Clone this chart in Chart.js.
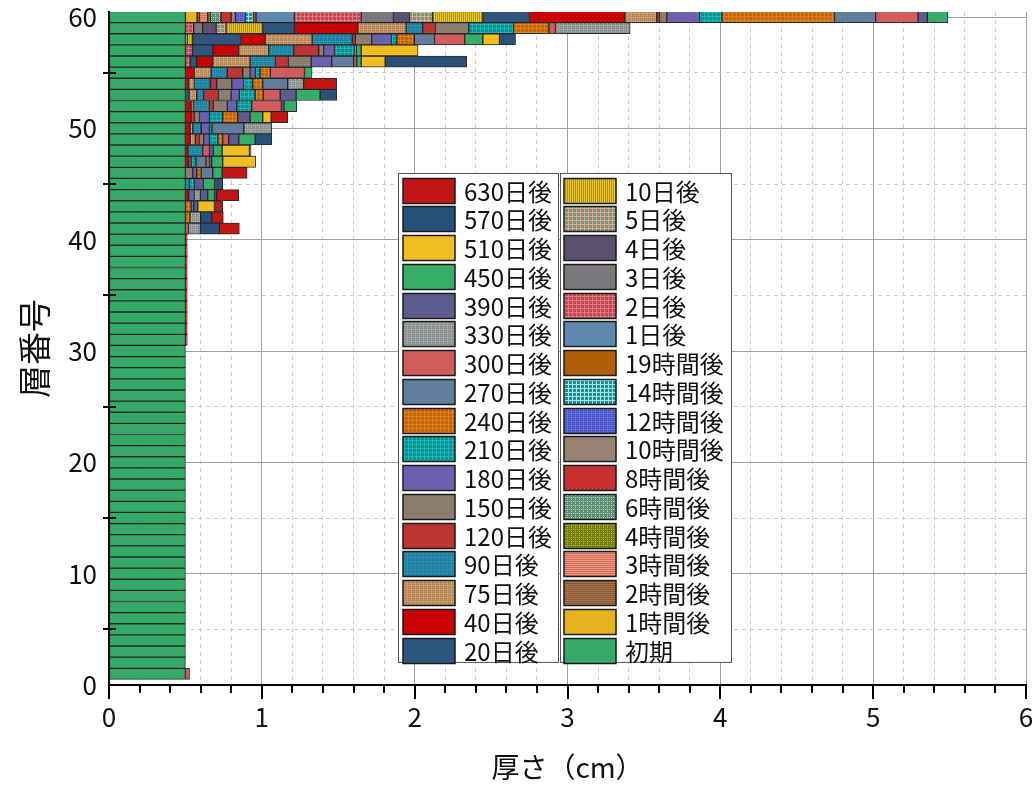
<!DOCTYPE html>
<html lang="ja">
<head>
<meta charset="utf-8">
<title>層厚の推移</title>
<script src="https://cdn.jsdelivr.net/npm/chart.js@4.4.1/dist/chart.umd.min.js"></script>
<style>
  html, body { margin: 0; padding: 0; background: #fff; }
  #wrap { width: 1035px; height: 787px; }
</style>
</head>
<body>
<div id="wrap"><canvas id="chart" width="1035" height="787"></canvas></div>
<script>
// 層番号
const layers = [
  1, 2, 3, 4, 5, 6, 7, 8, 9, 10, 11, 12, 13, 14, 15, 16, 17, 18, 19, 20,
  21, 22, 23, 24, 25, 26, 27, 28, 29, 30, 31, 32, 33, 34, 35, 36, 37, 38, 39, 40,
  41, 42, 43, 44, 45, 46, 47, 48, 49, 50, 51, 52, 53, 54, 55, 56, 57, 58, 59, 60
];

// 積み上げ順（下から）
const seriesNames = [
  '初期', '1時間後', '2時間後', '3時間後', '4時間後', '6時間後', '8時間後', '10時間後',
  '12時間後', '14時間後', '19時間後', '1日後', '2日後', '3日後', '4日後', '5日後',
  '10日後', '20日後', '40日後', '75日後', '90日後', '120日後', '150日後', '180日後',
  '210日後', '240日後', '270日後', '300日後', '330日後', '390日後', '450日後', '510日後',
  '570日後', '630日後'
];

const xTickLabels = [0, 1, 2, 3, 4, 5, 6];
const yTickLabels = [0, 10, 20, 30, 40, 50, 60];

// 各時点で増えた厚さ (cm)　1行目: 層1〜40, 2行目: 層41〜60
const initial = [
  .5,.5,.5,.5,.5,.5,.5,.5,.5,.5, .5,.5,.5,.5,.5,.5,.5,.5,.5,.5, .5,.5,.5,.5,.5,.5,.5,.5,.5,.5, .5,.5,.5,.5,.5,.5,.5,.5,.5,.5,
  .5,.5,.5,.5,.5, .5,.5,.5,.5,.5, .5,.5,.5,.5,.5, .5,.5,.5,.5,.5
];
const h1 = [
  0,0,0,0,0,0,0,0,0,0, 0,0,0,0,0,0,0,0,0,0, 0,0,0,0,0,0,0,0,0,0, 0,0,0,0,0,0,0,0,0,0,
  0,0,0,0,0, 0,0,0,0,0, 0,0,0,0,0, 0,0,0,0,.076
];
const h2 = [
  0,0,0,0,0,0,0,0,0,0, 0,0,0,0,0,0,0,0,0,0, 0,0,0,0,0,0,0,0,0,0, 0,0,0,0,0,0,0,0,0,0,
  0,0,0,0,0, 0,0,0,0,0, 0,0,0,0,0, 0,0,0,0,.016
];
const h3 = [
  0,0,0,0,0,0,0,0,0,0, 0,0,0,0,0,0,0,0,0,0, 0,0,0,0,0,0,0,0,0,0, 0,0,0,0,0,0,0,0,0,0,
  0,0,0,0,0, 0,0,0,0,0, 0,0,0,0,0, 0,0,0,0,.054
];
const h4 = [
  0,0,0,0,0,0,0,0,0,0, 0,0,0,0,0,0,0,0,0,0, 0,0,0,0,0,0,0,0,0,0, 0,0,0,0,0,0,0,0,0,0,
  0,0,0,0,0, 0,0,0,0,0, 0,0,0,0,0, 0,0,0,0,.018
];
const h6 = [
  0,0,0,0,0,0,0,0,0,0, 0,0,0,0,0,0,0,0,0,0, 0,0,0,0,0,0,0,0,0,0, 0,0,0,0,0,0,0,0,0,0,
  0,0,0,0,0, 0,0,0,0,0, 0,0,0,0,0, 0,0,0,0,.069
];
const h8 = [
  0,0,0,0,0,0,0,0,0,0, 0,0,0,0,0,0,0,0,0,0, 0,0,0,0,0,0,0,0,0,0, 0,0,0,0,0,0,0,0,0,0,
  0,0,0,0,0, 0,0,0,0,0, 0,0,0,0,0, 0,0,0,0,.066
];
const h10 = [
  0,0,0,0,0,0,0,0,0,0, 0,0,0,0,0,0,0,0,0,0, 0,0,0,0,0,0,0,0,0,0, 0,0,0,0,0,0,0,0,0,0,
  0,0,0,0,0, 0,0,0,0,0, 0,0,0,0,0, 0,0,0,0,.028
];
const h12 = [
  0,0,0,0,0,0,0,0,0,0, 0,0,0,0,0,0,0,0,0,0, 0,0,0,0,0,0,0,0,0,0, 0,0,0,0,0,0,0,0,0,0,
  0,0,0,0,0, 0,0,0,0,0, 0,0,0,0,0, 0,0,0,0,.066
];
const h14 = [
  0,0,0,0,0,0,0,0,0,0, 0,0,0,0,0,0,0,0,0,0, 0,0,0,0,0,0,0,0,0,0, 0,0,0,0,0,0,0,0,0,0,
  0,0,0,0,0, 0,0,0,0,0, 0,0,0,0,0, 0,0,0,0,.052
];
const h19 = [
  0,0,0,0,0,0,0,0,0,0, 0,0,0,0,0,0,0,0,0,0, 0,0,0,0,0,0,0,0,0,0, 0,0,0,0,0,0,0,0,0,0,
  0,0,0,0,0, 0,0,0,0,0, 0,0,0,0,0, 0,0,0,0,.017
];
const d1 = [
  0,0,0,0,0,0,0,0,0,0, 0,0,0,0,0,0,0,0,0,0, 0,0,0,0,0,0,0,0,0,0, 0,0,0,0,0,0,0,0,0,0,
  0,0,0,0,0, 0,0,0,0,0, 0,0,0,0,0, 0,0,0,0,.251
];
const d2 = [
  0,0,0,0,0,0,0,0,0,0, 0,0,0,0,0,0,0,0,0,0, 0,0,0,0,0,0,0,0,0,0, 0,0,0,0,0,0,0,0,0,0,
  0,0,0,0,0, 0,0,0,0,0, 0,0,0,0,0, .031,.048,0,.054,.437
];
const d3 = [
  0,0,0,0,0,0,0,0,0,0, 0,0,0,0,0,0,0,0,0,0, 0,0,0,0,0,0,0,0,0,0, 0,0,0,0,0,0,0,0,0,0,
  0,0,0,0,0, 0,0,0,0,0, 0,0,0,0,0, 0,0,0,.059,.211
];
const d4 = [
  0,0,0,0,0,0,0,0,0,0, 0,0,0,0,0,0,0,0,0,0, 0,0,0,0,0,0,0,0,0,0, 0,0,0,0,0,0,0,0,0,0,
  0,0,0,0,0, 0,0,0,0,0, 0,0,0,0,0, 0,0,0,.088,.105
];
const d5 = [
  0,0,0,0,0,0,0,0,0,0, 0,0,0,0,0,0,0,0,0,0, 0,0,0,0,0,0,0,0,0,0, 0,0,0,0,0,0,0,0,0,0,
  0,0,0,0,0, 0,0,0,0,0, 0,0,0,0,0, 0,0,.011,.065,.152
];
const d10 = [
  0,0,0,0,0,0,0,0,0,0, 0,0,0,0,0,0,0,0,0,0, 0,0,0,0,0,0,0,0,0,0, 0,0,0,0,0,0,0,0,0,0,
  0,0,0,0,0, 0,0,0,0,0, 0,0,0,0,0, 0,0,.037,.240,.328
];
const d20 = [
  0,0,0,0,0,0,0,0,0,0, 0,0,0,0,0,0,0,0,0,0, 0,0,0,0,0,0,0,0,0,0, 0,0,0,0,0,0,0,0,0,0,
  0,0,0,0,0, 0,0,0,0,0, 0,0,.024,0,0, .043,.131,.312,.207,.305
];
const d40 = [
  0,0,0,0,0,0,0,0,0,0, 0,0,0,0,0,0,0,0,0,0, 0,0,0,0,0,0,0,0,0,0, 0,0,0,0,0,0,0,0,0,0,
  0,0,0,.022,0, 0,.022,.016,.031,.031, .037,.037,0,.022,.059, .105,.170,.161,.415,.625
];
const d75 = [
  0,0,0,0,0,0,0,0,0,0, 0,0,0,0,0,0,0,0,0,0, 0,0,0,0,0,0,0,0,0,0, 0,0,0,0,0,0,0,0,0,0,
  0,0,0,0,0, 0,0,0,.034,.017, 0,.016,.050,.037,.109, .244,.196,.308,.316,.208
];
const d90 = [
  0,0,0,0,0,0,0,0,0,0, 0,0,0,0,0,0,0,0,0,0, 0,0,0,0,0,0,0,0,0,0, 0,0,0,0,0,0,0,0,0,0,
  0,0,0,0,.026, 0,0,.097,0,.055, 0,.104,.046,.103,.105, .166,.164,.262,.109,0
];
const d120 = [
  0,0,0,0,0,0,0,0,0,0, 0,0,0,0,0,0,0,0,0,0, 0,0,0,0,0,0,0,0,0,0, 0,0,0,0,0,0,0,0,0,0,
  0,0,0,0,0, 0,.015,0,.027,0, .022,.026,.096,.043,.102, .085,.163,.021,.083,.018
];
const d150 = [
  0,0,0,0,0,0,0,0,0,0, 0,0,0,0,0,0,0,0,0,0, 0,0,0,0,0,0,0,0,0,0, 0,0,0,0,0,0,0,0,0,0,
  0,0,0,0,0, .048,0,0,.028,0, .033,.091,.083,.098,.048, .149,.033,.107,.218,.048
];
const d180 = [
  0,0,0,0,0,0,0,0,0,0, 0,0,0,0,0,0,0,0,0,0, 0,0,0,0,0,0,0,0,0,0, 0,0,0,0,0,0,0,0,0,0,
  0,0,0,.037,0, .026,0,0,.037,.054, .065,.062,.054,.077,.035, .134,.070,.129,0,.214
];
const d210 = [
  0,0,0,0,0,0,0,0,0,0, 0,0,0,0,0,0,0,0,0,0, 0,0,0,0,0,0,0,0,0,0, 0,0,0,0,0,0,0,0,0,0,
  0,0,0,0,.033, 0,.032,0,.055,.017, .087,.098,.103,.060,.031, 0,.131,.035,.293,.146
];
const d240 = [
  0,0,0,0,0,0,0,0,0,0, 0,0,0,0,0,0,0,0,0,0, 0,0,0,0,0,0,0,0,0,0, 0,0,0,0,0,0,0,0,0,0,
  0,.030,.037,0,0, .029,0,0,.032,0, .098,0,.054,.066,.067, 0,0,.114,.231,.737
];
const d270 = [
  0,0,0,0,0,0,0,0,0,0, 0,0,0,0,0,0,0,0,0,0, 0,0,0,0,0,0,0,0,0,0, 0,0,0,0,0,0,0,0,0,0,
  0,0,.017,0,0, .076,.066,0,0,.208, 0,0,0,.163,0, .144,0,.133,0,.269
];
const d300 = [
  .027,0,0,0,0,0,0,0,0,0, 0,0,0,0,0,0,0,0,0,0, 0,0,0,0,0,0,0,0,0,0, 0,0,0,0,0,0,0,0,0,0,
  .020,0,0,0,0, 0,.022,.044,.039,0, 0,.194,.110,0,.223, .020,.012,.198,.043,.277
];
const d330 = [
  0,0,0,0,0,0,0,0,0,0, 0,0,0,0,0,0,0,0,0,0, 0,0,0,0,0,0,0,0,0,0, 0,0,0,0,0,0,0,0,0,0,
  .078,.070,0,.039,0, 0,0,0,0,.183, 0,0,0,.105,0, 0,0,0,.489,0
];
const d390 = [
  0,0,0,0,0,0,0,0,0,0, 0,0,0,0,0,0,0,0,0,0, 0,0,0,0,0,0,0,0,0,0, 0,0,0,0,0,0,0,0,0,0,
  0,0,.027,.048,.059, 0,.015,.026,.066,0, .081,.017,.104,0,0, 0,0,0,0,.061
];
const d450 = [
  0,0,0,0,0,0,0,0,0,0, 0,0,0,0,0,0,0,0,0,0, 0,0,0,0,0,0,0,0,0,0, 0,0,0,0,0,0,0,0,0,0,
  0,0,0,.044,.072, .061,.072,.057,.107,0, .083,.083,.157,0,.050, .029,.032,.118,0,.135
];
const d510 = [
  0,0,0,0,0,0,0,0,0,0, 0,0,0,0,0,0,0,0,0,0, 0,0,0,0,0,0,0,0,0,0, 0,0,0,0,0,0,0,0,0,0,
  0,0,.109,0,0, 0,.216,.179,0,0, .055,0,0,0,0, .157,.372,.109,0,0
];
const d570 = [
  0,0,0,0,0,0,0,0,0,0, 0,0,0,0,0,0,0,0,0,0, 0,0,0,0,0,0,0,0,0,0, 0,0,0,0,0,0,0,0,0,0,
  .124,.072,0,.015,.054, 0,0,.011,.109,0, 0,0,.109,0,0, .534,0,.105,0,0
];
const d630 = [
  0,0,0,0,0,0,0,0,0,0, 0,0,0,0,0,0,0,0,0,0, 0,0,0,0,0,0,0,0,0,0, .012,.012,.012,.012,.012,.012,.012,.012,.012,.012,
  .131,.076,.054,.144,0, .164,0,0,0,0, .108,0,0,.216,0, 0,0,0,0,0
];

const seriesData = [
  initial, h1, h2, h3, h4, h6, h8, h10, h12, h14, h19, d1, d2, d3, d4, d5,
  d10, d20, d40, d75, d90, d120, d150, d180, d210, d240, d270, d300, d330, d390, d450, d510,
  d570, d630
];

// 塗り: [地の色, 模様の色, 模様]
const fillSpecs = [
  ['#34ad68', '#2c9a5b', 'fine'],   // 初期
  ['#e8b420', '#d6a212', 'fine'],   // 1時間後
  ['#8b5a30', '#a47550', 'hline'],  // 2時間後
  ['#d46c58', '#e89a84', 'hline'],  // 3時間後
  ['#78800f', '#d2b326', 'dots'],   // 4時間後
  ['#5e8c74', '#b9dab9', 'dots'],   // 6時間後
  ['#c52d2d', '#d64646', 'fine'],   // 8時間後
  ['#958070', '#a89484', 'fine'],   // 10時間後
  ['#4f5ac8', '#6f8fdc', 'dots'],   // 12時間後
  ['#13959e', '#a4e3e3', 'grid'],   // 14時間後
  ['#ad5c08', '#c16c14', 'fine'],   // 19時間後
  ['#5d86ad', '#6f97bd', 'fine'],   // 1日後
  ['#c8444f', '#de7a80', 'grid'],   // 2日後
  ['#78787c', '#838387', 'fine'],   // 3日後
  ['#5a4f6e', '#665b7a', 'fine'],   // 4日後
  ['#5aa86a', '#e2a4a0', 'grid'],   // 5日後
  ['#9f9a18', '#e8c838', 'vline'],  // 10日後
  ['#2d557d', '#355e87', 'fine'],   // 20日後
  ['#c80000', '#d41414', 'fine'],   // 40日後
  ['#b88a5c', '#dcb68c', 'dots'],   // 75日後
  ['#1e82a0', '#3d9db9', 'dots'],   // 90日後
  ['#bc3232', '#ca4545', 'fine'],   // 120日後
  ['#8a7c6c', '#988b7c', 'fine'],   // 150日後
  ['#6a5fae', '#776bb9', 'fine'],   // 180日後
  ['#009595', '#23b2b2', 'grid'],   // 210日後
  ['#c86400', '#da8224', 'grid'],   // 240日後
  ['#5f7d9b', '#6a88a5', 'fine'],   // 270日後
  ['#d05a5a', '#dc6d6d', 'fine'],   // 300日後
  ['#8f938f', '#b9bcb9', 'dots'],   // 330日後
  ['#5b5a8e', '#67669a', 'fine'],   // 390日後
  ['#35ac66', '#42b973', 'fine'],   // 450日後
  ['#f0bc1c', '#f8cd3f', 'fine'],   // 510日後
  ['#275078', '#305a84', 'fine'],   // 570日後
  ['#c01414', '#cd2424', 'fine']    // 630日後
];

function texture(base, accent, kind) {
  const c = document.createElement('canvas');
  c.width = 4;
  c.height = 4;
  const g = c.getContext('2d');
  g.fillStyle = base;
  g.fillRect(0, 0, 4, 4);
  g.fillStyle = accent;
  if (kind === 'fine') {
    g.fillRect(0, 0, 1, 1);
    g.fillRect(2, 2, 1, 1);
  } else if (kind === 'dots') {
    g.fillRect(1, 1, 1, 1);
    g.fillRect(3, 3, 1, 1);
    g.fillRect(3, 1, 1, 1);
  } else if (kind === 'grid') {
    g.fillRect(0, 0, 4, 1);
    g.fillRect(0, 0, 1, 4);
  } else if (kind === 'vline') {
    g.fillRect(0, 0, 1, 4);
    g.fillRect(2, 0, 1, 4);
  } else if (kind === 'hline') {
    g.fillRect(0, 0, 4, 1);
    g.fillRect(0, 2, 4, 1);
  }
  return g.createPattern(c, 'repeat');
}

const fills = fillSpecs.map(s => texture(s[0], s[1], s[2]));

const isWhole = v => Math.abs(v - Math.round(v)) < 1e-6;

// 軸の短い目盛り（y: 5,15,25… 軸をまたぐ / x: 0.2刻み、整数は長め）
const axisMarks = {
  id: 'axisMarks',
  afterDatasetsDraw(chart) {
    const {ctx, chartArea, scales: {x, y}} = chart;
    ctx.save();
    ctx.strokeStyle = '#000';
    ctx.lineWidth = 2;
    ctx.beginPath();
    y.ticks.forEach(t => {
      if (t.value % 10 === 5) {
        const py = Math.round(y.getPixelForValue(t.value));
        ctx.moveTo(chartArea.left - 6, py);
        ctx.lineTo(chartArea.left + 7, py);
      }
    });
    x.ticks.forEach(t => {
      const px = Math.round(x.getPixelForValue(t.value));
      const len = isWhole(t.value) ? 14 : 8;
      ctx.moveTo(px, chartArea.bottom);
      ctx.lineTo(px, chartArea.bottom + len);
    });
    ctx.stroke();
    ctx.restore();
  }
};

// 凡例: 2列 × 17行、新しい時点から順に
const boxLegend = {
  id: 'boxLegend',
  afterDraw(chart) {
    const ctx = chart.ctx;
    const items = chart.data.datasets.map((d, i) => ({label: d.label, fill: d.backgroundColor, i})).reverse();
    const cols = [
      {x: 398.5, w: 160, swatchX: 403, textX: 464},
      {x: 560.5, w: 171, swatchX: 564, textX: 625}
    ];
    const top = 173.5, rows = 17, pitch = 28.76;
    ctx.save();
    cols.forEach((col, c) => {
      ctx.fillStyle = '#fff';
      ctx.fillRect(col.x, top, col.w, rows * pitch);
      ctx.strokeStyle = '#555';
      ctx.lineWidth = 1;
      ctx.strokeRect(col.x, top, col.w, rows * pitch);
      for (let r = 0; r < rows; r++) {
        const it = items[c * rows + r];
        const sy = Math.round(top + 4 + r * pitch) + 0.5;
        ctx.fillStyle = it.fill;
        ctx.fillRect(col.swatchX, sy, 52, 25);
        ctx.strokeStyle = '#1a1a1a';
        ctx.lineWidth = 1.5;
        ctx.strokeRect(col.swatchX, sy, 52, 25);
        ctx.fillStyle = '#111';
        ctx.font = '24px "Noto Sans CJK JP", sans-serif';
        ctx.textBaseline = 'middle';
        ctx.textAlign = 'left';
        ctx.fillText(it.label, col.textX, sy + 13);
      }
    });
    ctx.restore();
  }
};

Chart.defaults.font.family = '"Noto Sans CJK JP", sans-serif';
Chart.defaults.color = '#111';

const datasets = seriesNames.map((name, i) => ({
  label: name,
  data: layers.map((layer, j) => ({x: seriesData[i][j], y: layer})).filter(p => p.x > 0),
  backgroundColor: fills[i],
  borderColor: 'rgba(22,22,22,0.9)',
  borderWidth: 1,
  borderSkipped: false,
  barPercentage: 1,
  categoryPercentage: 1
}));

const ctx = document.getElementById('chart').getContext('2d');
const chart = new Chart(ctx, {
  type: 'bar',
  data: { datasets },
  options: {
    responsive: false,
    animation: false,
    indexAxis: 'y',
    layout: { padding: { top: 12, right: 9, left: 0, bottom: 0 } },
    plugins: {
      legend: { display: false },
      tooltip: { enabled: false }
    },
    scales: {
      x: {
        type: 'linear',
        stacked: true,
        min: 0,
        max: 6,
        ticks: {
          stepSize: 0.2,
          maxTicksLimit: 100,
          autoSkip: false,
          maxRotation: 0,
          padding: 17,
          font: { size: 26 },
          color: '#111',
          callback: v => xTickLabels.includes(Math.round(v * 1000) / 1000) ? String(Math.round(v)) : ''
        },
        grid: {
          drawTicks: false,
          color: c => (c.tick && isWhole(c.tick.value)) ? '#a0a0a0' : '#cdcdcd',
          lineWidth: 1
        },
        border: {
          display: true,
          color: '#000',
          width: 2,
          dash: c => (c.tick && !isWhole(c.tick.value)) ? [4, 4] : []
        },
        title: {
          display: true,
          text: '厚さ（cm）',
          font: { size: 28 },
          color: '#111',
          padding: { top: 0, bottom: 3 }
        },
        afterFit(s) {
          s.height = 102;
          s.paddingLeft = 0;
          s.paddingRight = 0;
        }
      },
      y: {
        type: 'linear',
        stacked: true,
        offset: false,
        min: 0,
        max: 60.45,
        ticks: {
          stepSize: 5,
          includeBounds: false,
          autoSkip: false,
          padding: 12,
          font: { size: 26 },
          color: '#111',
          callback: v => yTickLabels.includes(v) ? String(v) : ''
        },
        grid: {
          offset: false,
          drawTicks: false,
          color: c => (c.tick && c.tick.value % 10 === 0) ? '#a0a0a0' : '#cdcdcd',
          lineWidth: 1
        },
        border: {
          display: true,
          color: '#000',
          width: 2,
          dash: c => (c.tick && c.tick.value % 10 !== 0) ? [4, 4] : []
        },
        title: {
          display: true,
          text: '層番号',
          font: { size: 33 },
          color: '#111',
          padding: { top: 15, bottom: 0 }
        },
        afterFit(s) {
          s.width = 109;
          s.paddingTop = 0;
          s.paddingBottom = 0;
        }
      }
    }
  },
  plugins: [axisMarks, boxLegend]
});
</script>
</body>
</html>
